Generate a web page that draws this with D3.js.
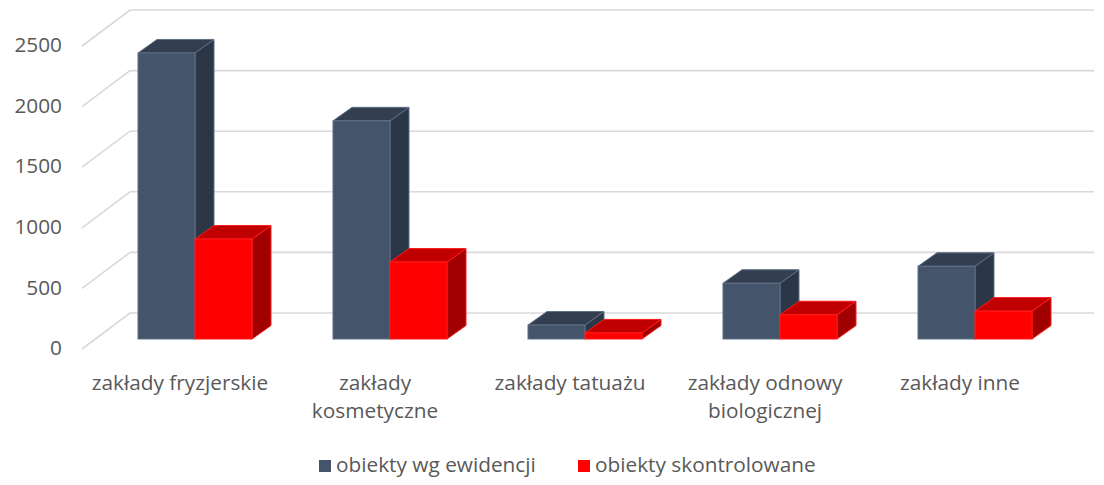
<!DOCTYPE html>
<html><head><meta charset="utf-8">
<script src="https://cdn.jsdelivr.net/npm/d3@7"></script>
<style>body{margin:0;background:#fff}svg{display:block}text{font-family:"Open Sans",Lato,sans-serif;fill:#595959}</style>
</head><body>
<svg id="c" width="1104" height="485"></svg>
<script>
const categories = [["zakłady fryzjerskie"],["zakłady","kosmetyczne"],["zakłady tatuażu"],["zakłady odnowy","biologicznej"],["zakłady inne"]];
const seriesNames = ["obiekty wg ewidencji","obiekty skontrolowane"];
const ewidencja = [2360, 1800, 115, 460, 600];
const skontrolowane = [825, 635, 50, 200, 230];
const yTicks = [0, 500, 1000, 1500, 2000, 2500];

const colors = [
  {front:"#44546A", top:"#333F50", side:"#2B3646", stroke:"#5E6E85"},
  {front:"#FF0000", top:"#C00000", side:"#A00000", stroke:"#FF1A1A"}
];
const svg = d3.select("#c");
const DX = 19, DY = -13.5;         // depth offset of bars
const WX = 48, WY = -36;           // depth offset of wall
const y = d3.scaleLinear().domain([0,2500]).range([339, 36]);
const yWall = d3.scaleLinear().domain([0,2500]).range([313, 10]);
const x = d3.scaleBand().domain(d3.range(categories.length)).range([97.5, 1072.5]);
const xs = d3.scaleBand().domain([0,1]).range([x.bandwidth()/2-57, x.bandwidth()/2+57]);

const FS = 20.8;
// gridlines
const g = svg.append("g");
yTicks.forEach(t => {
  const yb = yWall(t);
  g.append("polyline")
    .attr("points", `82,${yb - WY} 130,${yb} 1094,${yb}`)
    .attr("fill","none").attr("stroke","#d9d9d9").attr("stroke-width",1.6);
});
// y labels
svg.append("g").selectAll("text").data(yTicks).join("text")
  .attr("x", 62).attr("y", d => yWall(d) - WY - 1).attr("dy","0.35em")
  .attr("text-anchor","end").attr("font-size",FS).text(d => d);

// bars
const series = [ewidencja, skontrolowane];
const bars = svg.append("g");
categories.forEach((c, i) => {
  series.forEach((vals, s) => {
    const v = vals[i];
    const x0 = x(i) + xs(s), x1 = x0 + xs.bandwidth();
    const y0 = y(0), y1 = y(v);
    const col = colors[s];
    const sw = 1;
    bars.append("polygon").attr("points",
      `${x1},${y0} ${x1+DX},${y0+DY} ${x1+DX},${y1+DY} ${x1},${y1}`)
      .attr("fill", col.side).attr("stroke", col.stroke).attr("stroke-width", sw).attr("stroke-linejoin","round");
    bars.append("polygon").attr("points",
      `${x0},${y1} ${x0+DX},${y1+DY} ${x1+DX},${y1+DY} ${x1},${y1}`)
      .attr("fill", col.top).attr("stroke", col.stroke).attr("stroke-width", sw).attr("stroke-linejoin","round");
    bars.append("rect").attr("x", x0).attr("y", y1).attr("width", x1-x0).attr("height", y0-y1)
      .attr("fill", col.front).attr("stroke", col.stroke).attr("stroke-width", sw);
  });
});

// category labels
const lab = svg.append("g");
categories.forEach((lines, i) => {
  const cx = x(i) + x.bandwidth()/2 - 15;
  const t = lab.append("text").attr("text-anchor","middle").attr("font-size",FS);
  lines.forEach((l, k) => t.append("tspan").attr("x", cx).attr("y", 390 + k*28).text(l));
});

// legend
const leg = svg.append("g");
const legX = [319, 578];
seriesNames.forEach((n, s) => {
  leg.append("rect").attr("x", legX[s]).attr("y", 460).attr("width", 12).attr("height", 12).attr("fill", colors[s].front);
  leg.append("text").attr("x", legX[s] + 17).attr("y", 465).attr("dy","0.35em").attr("font-size",FS).text(n);
});
</script>
</body></html>
